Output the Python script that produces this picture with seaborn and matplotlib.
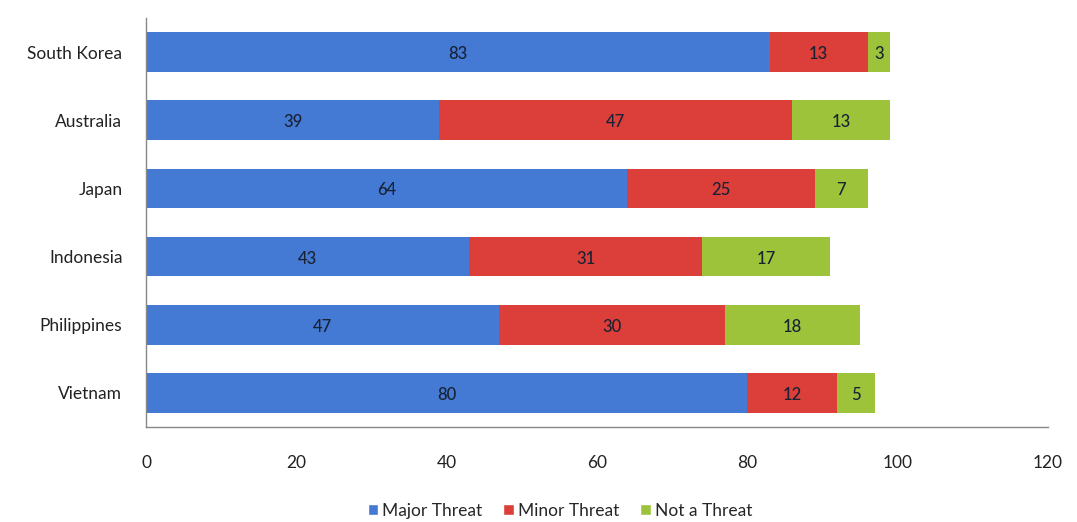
import matplotlib
matplotlib.use("Agg")
import matplotlib.pyplot as plt
import seaborn as sns
import numpy as np
import pandas as pd
from matplotlib.patches import Patch

countries = ["South Korea", "Australia", "Japan", "Indonesia", "Philippines", "Vietnam"]
major = [83, 39, 64, 43, 47, 80]
minor = [13, 47, 25, 31, 30, 12]
not_threat = [3, 13, 7, 17, 18, 5]
series_names = ["Major Threat", "Minor Threat", "Not a Threat"]
colors = ["#4479d4", "#dc3f39", "#9dc33b"]
x_ticks = [0, 20, 40, 60, 80, 100, 120]

sns.set_theme(style="white")
plt.rcParams["font.family"] = ["Lato", "DejaVu Sans"]

fig = plt.figure(figsize=(10.77, 5.22), dpi=100)
ax = fig.add_axes([0.1356, 0.182, 0.8374, 0.7835])

df = pd.DataFrame({"country": countries, "major": major, "minor": minor, "not": not_threat})
df["c1"] = df["major"]
df["c2"] = df["major"] + df["minor"]
df["c3"] = df["c2"] + df["not"]

# stacked bars: draw cumulative totals from the longest down
for col, color in zip(["c3", "c2", "c1"], colors[::-1]):
    sns.barplot(data=df, y="country", x=col, orient="h", color=color,
                width=0.58, saturation=1, ax=ax, edgecolor="none")

# value labels centred in each segment
starts = [np.zeros(len(df)), df["c1"].values, df["c2"].values]
vals = [df["major"].values, df["minor"].values, df["not"].values]
for s, v in zip(starts, vals):
    for i, (a, b) in enumerate(zip(s, v)):
        ax.text(a + b / 2, i + 0.03, f"{b}", ha="center", va="center",
                fontsize=12, color="#172233", fontweight="medium")

ax.set_xlim(0, 120)
ax.set_ylim(5.5, -0.5)
ax.set_xticks(x_ticks)
ax.set_xticklabels([str(t) for t in x_ticks], fontsize=12.5, color="#222222")
ax.tick_params(axis="y", labelsize=12.5, labelcolor="#222222", length=0, pad=17)
ax.tick_params(axis="x", length=0, pad=20)
ax.set_xlabel("")
ax.set_ylabel("")
for side in ["top", "right"]:
    ax.spines[side].set_visible(False)
for side in ["left", "bottom"]:
    ax.spines[side].set_color("#888888")
    ax.spines[side].set_linewidth(1.0)

handles = [Patch(facecolor=c, label=n) for c, n in zip(colors, series_names)]
fig.legend(handles=handles, loc="center", bbox_to_anchor=(0.52, 0.022),
           ncol=3, frameon=False, fontsize=12.5, handlelength=0.6,
           handleheight=0.6, handletextpad=0.25, columnspacing=1.2)

fig.savefig("out.png", dpi=100)
